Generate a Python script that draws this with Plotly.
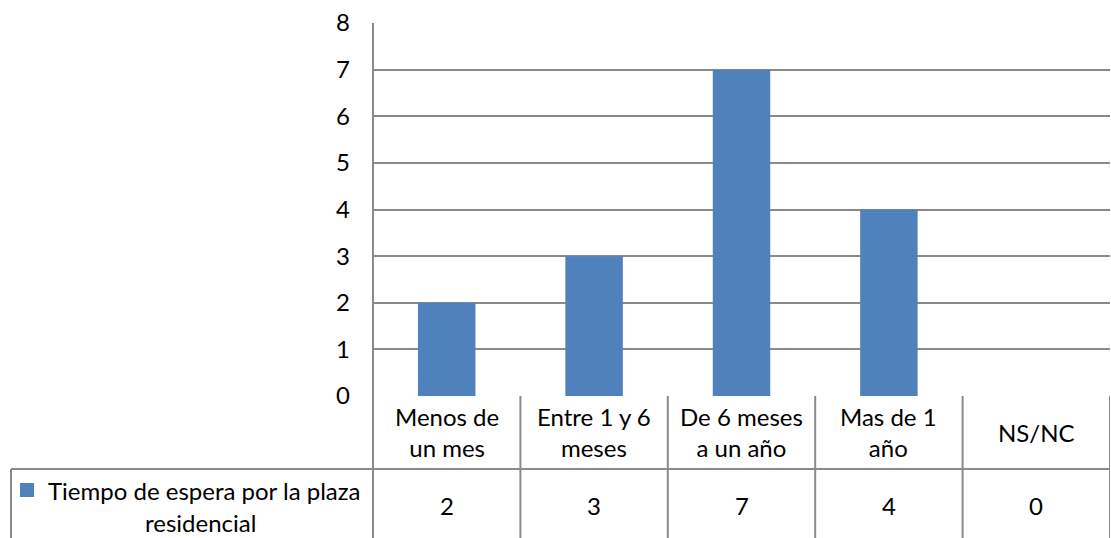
import plotly.graph_objects as go

# Waiting time for a residential place
categories = ["Menos de<br>un mes", "Entre 1 y 6<br>meses", "De 6 meses<br>a un año",
              "Mas de 1<br>año", "NS/NC"]
values = [2, 3, 7, 4, 0]
series_name = "Tiempo de espera por la plaza"
series_name_line2 = "residencial"
y_ticks = [0, 1, 2, 3, 4, 5, 6, 7, 8]

W, H = 1111, 538
BAR = "#4F81BD"
GRID = "#8a8a8a"
FONT = "Lato"
FS = 24

def py(px):
    """pixel row -> paper y"""
    return 1 - px / H

def px_x(px):
    return px / W

plot_top, plot_bottom = 23, 396
plot_left, plot_right = 373, 1110
row_split = 469

xpos = list(range(len(categories)))

fig = go.Figure()
fig.add_trace(go.Bar(x=xpos, y=values, width=0.39, marker_color=BAR,
                     marker_line_width=0, name=series_name, showlegend=False))

shapes = []
line = dict(color=GRID, width=2)
# left axis line running through the data table
shapes.append(dict(type="line", xref="paper", yref="paper",
                   x0=px_x(plot_left), x1=px_x(plot_left), y0=py(plot_top), y1=0, line=line))
# vertical separators of the data table
for b in [i + 0.5 for i in range(len(categories))]:
    shapes.append(dict(type="line", xref="x", yref="paper", x0=b, x1=b,
                       y0=py(plot_bottom), y1=0, line=line))
# horizontal line between header row and value row
shapes.append(dict(type="line", xref="paper", yref="paper", x0=px_x(11), x1=px_x(plot_right),
                   y0=py(row_split), y1=py(row_split), line=line))
# left border of the legend cell
shapes.append(dict(type="line", xref="paper", yref="paper", x0=px_x(11), x1=px_x(11),
                   y0=py(row_split), y1=0, line=line))
# legend key
shapes.append(dict(type="rect", xref="paper", yref="paper", x0=px_x(20), x1=px_x(34),
                   y0=py(497), y1=py(483), fillcolor=BAR, line=dict(width=0)))

txt = dict(family=FONT, size=FS, color="black")
annotations = []
for i, (c, v) in enumerate(zip(categories, values)):
    annotations.append(dict(x=i, xref="x", y=py(432), yref="paper", text=c, showarrow=False,
                            xanchor="center", yanchor="middle", font=txt, align="center"))
    annotations.append(dict(x=i, xref="x", y=py(505), yref="paper", text=str(v), showarrow=False,
                            xanchor="center", yanchor="middle", font=txt))
annotations.append(dict(x=px_x(204), xref="paper", y=py(490), yref="paper", text=series_name,
                        showarrow=False, xanchor="center", yanchor="middle", font=txt))
annotations.append(dict(x=px_x(200), xref="paper", y=py(522), yref="paper", text=series_name_line2,
                        showarrow=False, xanchor="center", yanchor="middle", font=txt))

fig.update_layout(
    width=W, height=H, margin=dict(l=0, r=0, t=0, b=0, pad=0, autoexpand=False),
    plot_bgcolor="white", paper_bgcolor="white",
    xaxis=dict(domain=[px_x(plot_left), px_x(plot_right)], range=[-0.5, len(categories) - 0.5],
               showticklabels=False, showgrid=False, zeroline=False, ticks="", automargin=False),
    yaxis=dict(domain=[py(plot_bottom), py(plot_top)], range=[0, 8], tickvals=y_ticks,
               showgrid=True, gridcolor=GRID, gridwidth=2, zeroline=False, automargin=False,
               tickfont=txt, ticklabelstandoff=22),
    shapes=shapes, annotations=annotations, bargap=0.6,
)

fig.write_html("out.html")
